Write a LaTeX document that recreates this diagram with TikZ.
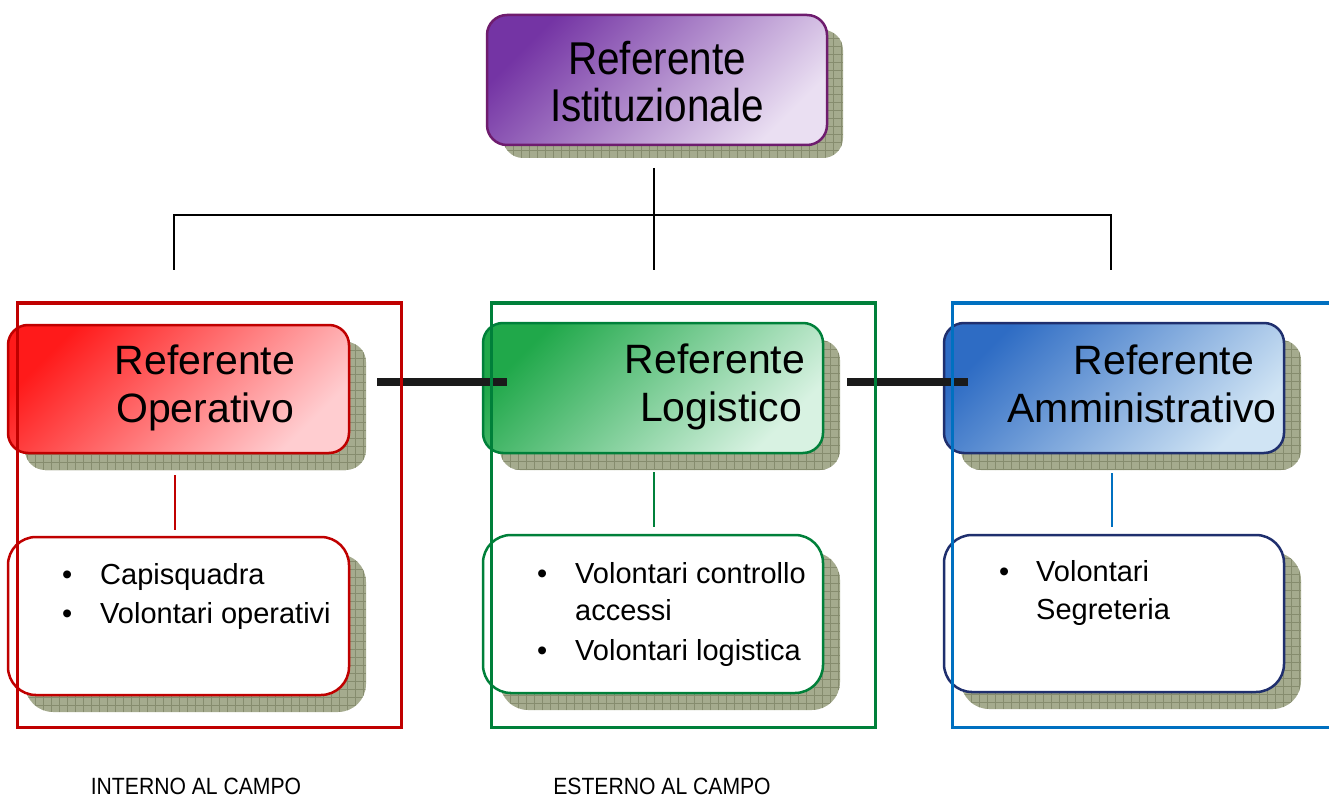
\documentclass[tikz,border=0pt]{standalone}
\usepackage{fontspec}
\setmainfont{Liberation Sans}
\newfontfamily\narrowfont[FakeStretch=0.88]{Liberation Sans}
\newfontfamily\labelfont[FakeStretch=0.9]{Liberation Sans}
\definecolor{shadowc}{HTML}{A5AB8E}
\definecolor{gridc}{HTML}{868C6E}
\definecolor{purpleB}{HTML}{6E1C6E}
\definecolor{purpleA}{HTML}{7434A4}
\definecolor{purpleZ}{HTML}{EADFF2}
\definecolor{redB}{HTML}{C00000}
\definecolor{redA}{HTML}{FF1A1A}
\definecolor{redZ}{HTML}{FFCDD0}
\definecolor{greenB}{HTML}{00803A}
\definecolor{greenA}{HTML}{20A84A}
\definecolor{greenZ}{HTML}{D8F2E2}
\definecolor{navyB}{HTML}{1F2F6E}
\definecolor{blueA}{HTML}{2E6CC4}
\definecolor{blueZ}{HTML}{D0E4F4}
\definecolor{blueF}{HTML}{0070C0}
\definecolor{barc}{HTML}{1A1A1A}
\newcommand\bulitem[1]{\makebox[#1][l]{\textbullet}}
\tikzset{
  shadowbox/.style n args={3}{fill=shadowc, rounded corners=#1, minimum width=#2, minimum height=#3, inner sep=0pt,
    path picture={\draw[gridc, line width=0.45pt] (path picture bounding box.south west) grid[step=8pt] (path picture bounding box.north east);}},
  headbox/.style n args={5}{draw=#1, top color=#2, bottom color=#3, shading angle=45, line width=2.5pt,
    rounded corners=20pt, minimum width=#4, minimum height=#5, inner sep=0pt},
  listbox/.style n args={3}{draw=#1, fill=white, line width=2.5pt, rounded corners=28pt,
    minimum width=#2, minimum height=#3, inner sep=0pt},
  framebox/.style n args={3}{draw=#1, line width=3pt, minimum width=#2, minimum height=#3, inner sep=0pt},
  bigtxt/.style={font=\fontsize{41}{48}\selectfont, inner sep=0pt, anchor=base},
  toptxt/.style={font=\narrowfont\fontsize{46}{52}\selectfont, inner sep=0pt, anchor=base},
  bultxt/.style={font=\fontsize{29}{36}\selectfont, inner sep=0pt, anchor=base west},
  labtxt/.style={font=\labelfont\fontsize{23.5}{28}\selectfont, inner sep=0pt, anchor=base},
  thin/.style={line width=2pt},
  bar/.style={line width=8pt, barc},
}
\begin{document}
\begin{tikzpicture}[x=1pt,y=-1pt]
\useasboundingbox (0,0) rectangle (1329,799);
\fill[white] (0,0) rectangle (1329,799);

% top box
\node[shadowbox={20pt}{340pt}{128pt}] (topS) at (673,94) {};
\node[headbox={purpleB}{purpleA}{purpleZ}{340pt}{130pt}] (top) at (657,80) {};
\node[toptxt] (topT1) at (657,75) {Referente};
\node[toptxt] (topT2) at (657,122) {Istituzionale};

% tree connectors
\coordinate (tA) at (654,168);
\coordinate (tB) at (654,270);
\coordinate (hL) at (174,215);
\coordinate (hLd) at (174,270);
\coordinate (hR) at (1111,215);
\coordinate (hRd) at (1111,270);
\draw[thin] (tA) -- (tB);
\draw[thin] (hLd) -- (hL) -- (hR) -- (hRd);

% shadows of the head boxes
\node[shadowbox={20pt}{341pt}{128pt}] (opS) at (195.5,406) {};
\node[shadowbox={20pt}{340pt}{130pt}] (logS) at (670,405) {};
\node[shadowbox={20pt}{340pt}{130pt}] (admS) at (1131,405) {};

% head boxes
\node[headbox={redB}{redA}{redZ}{341pt}{128pt}] (op) at (178.5,389) {};
\node[headbox={greenB}{greenA}{greenZ}{340pt}{130pt}] (log) at (653,388) {};
\node[headbox={navyB}{blueA}{blueZ}{340pt}{130pt}] (adm) at (1114,388) {};

\node[bigtxt] (opT1) at (205,374) {Referente};
\node[bigtxt] (opT2) at (205,422) {Operativo};
\node[bigtxt] (logT1) at (715,373) {Referente};
\node[bigtxt] (logT2) at (721,421) {Logistico};
\node[bigtxt] (admT1) at (1164,374) {Referente};
\node[bigtxt] (admT2) at (1142,422) {Amministrativo};

% thick horizontal links
\coordinate (b1a) at (377,382);
\coordinate (b1b) at (507,382);
\coordinate (b2a) at (847,382);
\coordinate (b2b) at (968,382);
\draw[bar] (b1a) -- (b1b);
\draw[bar] (b2a) -- (b2b);

% short colored connectors
\coordinate (rA) at (175,475);
\coordinate (rB) at (175,530);
\coordinate (gA) at (654,472);
\coordinate (gB) at (654,527);
\coordinate (uA) at (1112,473);
\coordinate (uB) at (1112,527);
\draw[thin, redB] (rA) -- (rB);
\draw[thin, greenB] (gA) -- (gB);
\draw[thin, blueF] (uA) -- (uB);

% list boxes
\node[shadowbox={28pt}{341pt}{158pt}] (opLS) at (195.5,633) {};
\node[shadowbox={28pt}{340pt}{158pt}] (logLS) at (670,631) {};
\node[shadowbox={28pt}{340pt}{157pt}] (admLS) at (1131,630.5) {};
\node[listbox={redB}{341pt}{158pt}] (opL) at (178.5,616) {};
\node[listbox={greenB}{340pt}{158pt}] (logL) at (653,614) {};
\node[listbox={navyB}{340pt}{157pt}] (admL) at (1114,613.5) {};

\node[bultxt] (opL1) at (62,584) {\bulitem{38pt}Capisquadra};
\node[bultxt] (opL2) at (62,623) {\bulitem{38pt}Volontari operativi};
\node[bultxt] (logL1) at (537,583) {\bulitem{38pt}Volontari controllo};
\node[bultxt] (logL2) at (575,620) {accessi};
\node[bultxt] (logL3) at (537,660) {\bulitem{38pt}Volontari logistica};
\node[bultxt] (admL1) at (999,581) {\bulitem{37pt}Volontari};
\node[bultxt] (admL2) at (1036,619) {Segreteria};

% frames
\node[framebox={redB}{384pt}{424pt}] (frR) at (209,515) {};
\node[framebox={greenB}{384pt}{424pt}] (frG) at (683,515) {};
\coordinate (fbA) at (1340,303);
\coordinate (fbB) at (952,303);
\coordinate (fbC) at (952,727);
\coordinate (fbD) at (1340,727);
\draw[line width=3pt, blueF] (fbA) -- (fbB) -- (fbC) -- (fbD);

% labels
\node[labtxt] (lab1) at (196,794) {INTERNO AL CAMPO};
\node[labtxt] (lab2) at (662,794) {ESTERNO AL CAMPO};
\end{tikzpicture}
\end{document}
